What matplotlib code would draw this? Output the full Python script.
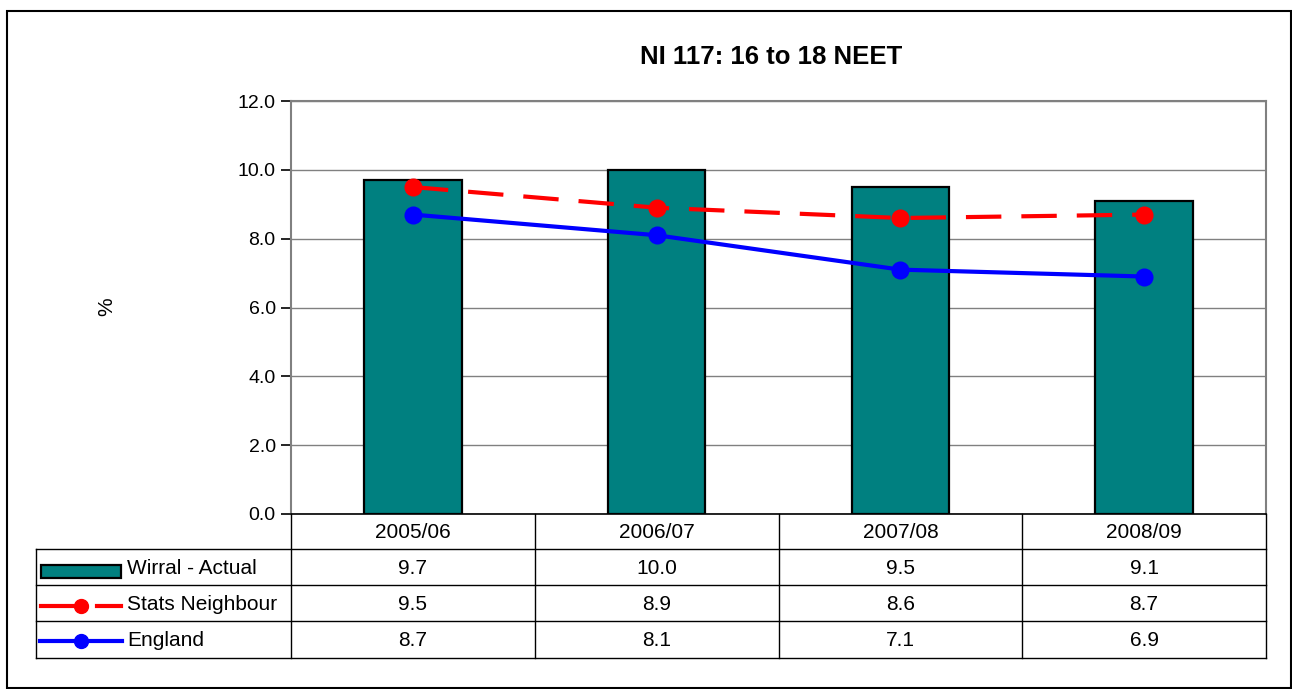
import matplotlib
matplotlib.use("Agg")
import matplotlib.pyplot as plt
from matplotlib.transforms import blended_transform_factory
from matplotlib.lines import Line2D
from matplotlib.patches import Rectangle

plt.rcParams['font.family'] = ['Liberation Sans', 'DejaVu Sans']

categories = ["2005/06", "2006/07", "2007/08", "2008/09"]
wirral = [9.7, 10.0, 9.5, 9.1]
stats_neighbour = [9.5, 8.9, 8.6, 8.7]
england = [8.7, 8.1, 7.1, 6.9]
series_names = ["Wirral - Actual", "Stats Neighbour", "England"]
title = "NI 117: 16 to 18 NEET"

W, H = 1292, 689
fig = plt.figure(figsize=(W / 100, H / 100), dpi=100)

def fx(p):
    return p / W

def fy(p):
    return 1 - p / H

L, R, T, B = 291, 1266, 101, 514
ax = fig.add_axes([fx(L), fy(B), fx(R) - fx(L), fy(T) - fy(B)])

x = list(range(len(categories)))
ax.bar(x, wirral, width=0.4, color="#008080", edgecolor="black", linewidth=1.6, zorder=2)
ax.plot(x, stats_neighbour, color="#ff0000", lw=3.0, dashes=(8.5, 4.8), marker="o",
        markersize=12, zorder=3)
ax.plot(x, england, color="#0000ff", lw=3.0, marker="o", markersize=12, zorder=3)

ax.set_xlim(-0.5, len(categories) - 0.5)
ax.set_ylim(0, 12)
ax.set_yticks([0, 2, 4, 6, 8, 10, 12])
ax.set_yticklabels([f"{v:.1f}" for v in [0, 2, 4, 6, 8, 10, 12]], fontsize=14)
ax.set_xticks([])
ax.yaxis.grid(True, color="#808080", lw=1.0, zorder=0)
ax.set_axisbelow(True)
for s in ["top", "right", "left"]:
    ax.spines[s].set_color("#808080")
    ax.spines[s].set_linewidth(1.5)
ax.spines["bottom"].set_color("black")
ax.spines["bottom"].set_linewidth(1.2)
ax.tick_params(axis="y", length=7, width=1.2, color="black", pad=4)

fig.text(fx(771), fy(57), title, ha="center", va="center", fontsize=18.5, fontweight="bold")
fig.text(fx(107), fy(307), "%", ha="center", va="center", fontsize=15, rotation=90)

# data table
bt = blended_transform_factory(ax.transData, fig.transFigure)
ft = fig.transFigure
rows_y = [514, 549, 585, 621, 658]
line_kw = dict(color="black", lw=1.0, transform=ft)
for yy in rows_y[1:]:
    fig.add_artist(Line2D([fx(36), fx(R)], [fy(yy), fy(yy)], **line_kw))
for i in range(len(categories) + 1):
    xb = i - 0.5
    fig.add_artist(Line2D([xb, xb], [fy(514), fy(658)], color="black", lw=1.0, transform=bt))
fig.add_artist(Line2D([fx(36), fx(36)], [fy(549), fy(658)], **line_kw))

for i, c in enumerate(categories):
    fig.text(i, fy(532), c, transform=bt, ha="center", va="center", fontsize=15)
for r, vals in enumerate([wirral, stats_neighbour, england]):
    yc = (rows_y[r + 1] + rows_y[r + 2]) / 2 + 1
    for i, v in enumerate(vals):
        fig.text(i, fy(yc), f"{v:.1f}", transform=bt, ha="center", va="center", fontsize=15)
    fig.text(fx(127), fy(yc), series_names[r], ha="left", va="center", fontsize=15)

# legend keys
fig.add_artist(Rectangle((fx(41), fy(578)), fx(121) - fx(41), fy(565) - fy(578),
                         facecolor="#008080", edgecolor="black", lw=1.6, transform=ft))
yr = fy(606)
fig.add_artist(Line2D([fx(41), fx(82)], [yr, yr], color="#ff0000", lw=3.0, transform=ft))
fig.add_artist(Line2D([fx(97), fx(121)], [yr, yr], color="#ff0000", lw=3.0, transform=ft))
fig.add_artist(Line2D([fx(81)], [yr], color="#ff0000", marker="o", markersize=10, transform=ft))
yb = fy(641)
fig.add_artist(Line2D([fx(40), fx(122)], [yb, yb], color="#0000ff", lw=3.0, transform=ft))
fig.add_artist(Line2D([fx(81)], [yb], color="#0000ff", marker="o", markersize=10, transform=ft))

# outer border
fig.add_artist(Rectangle((fx(7), fy(688)), fx(1291) - fx(7), fy(11) - fy(688),
                         facecolor="none", edgecolor="black", lw=1.5, transform=ft))

fig.savefig("out.png", dpi=100)
